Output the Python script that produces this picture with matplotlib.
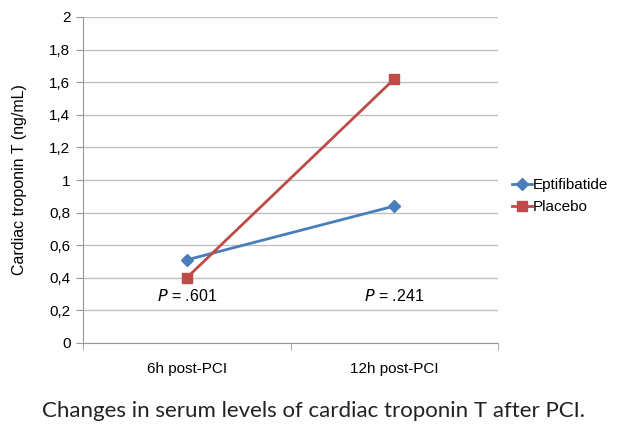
import numpy as np
import matplotlib.pyplot as plt

categories = ["6h post-PCI", "12h post-PCI"]
eptifibatide = [0.51, 0.84]
placebo = [0.40, 1.62]
p_values = ["= .601", "= .241"]
yticks = [0, 0.2, 0.4, 0.6, 0.8, 1, 1.2, 1.4, 1.6, 1.8, 2]

plt.rcParams['font.family'] = ['Liberation Sans', 'DejaVu Sans']

fig = plt.figure(figsize=(6.26, 4.24), dpi=100)
ax = fig.add_axes([83 / 626, 1 - 343 / 424, (498 - 83) / 626, (343 - 17) / 424])

x = np.arange(len(categories))
ax.plot(x, eptifibatide, color="#4A7EBB", lw=2, marker="D", ms=6, label="Eptifibatide")
ax.plot(x, placebo, color="#BE4B48", lw=2, marker="s", ms=7, label="Placebo")

for xi, p in zip(x, p_values):
    ax.text(xi, 0.29, "$\\it{P}$ " + p, ha="center", va="center", fontsize=11.5)

ax.set_xlim(-0.5, 1.5)
ax.set_ylim(0, 2)
ax.set_yticks(yticks)
ax.set_yticklabels([str(t).replace(".", ",") for t in yticks], fontsize=11)
ax.set_xticks(x)
ax.set_xticklabels(categories, fontsize=11)
ax.set_xticks([-0.5, 0.5, 1.5], minor=True)
ax.tick_params(axis="x", which="major", length=0, pad=14)
ax.tick_params(axis="x", which="minor", length=5, color="#999999")
ax.tick_params(axis="y", length=5, color="#999999", pad=4)
ax.grid(axis="y", color="#c0c0c0", lw=1)
ax.set_axisbelow(True)
for s in ["top", "right"]:
    ax.spines[s].set_visible(False)
for s in ["left", "bottom"]:
    ax.spines[s].set_color("#999999")
ax.set_ylabel("Cardiac troponin T (ng/mL)", fontsize=11.5, labelpad=16)

ax.legend(loc="center left", bbox_to_anchor=(1.0, 0.45), frameon=False,
          fontsize=11, handlelength=1.3, handletextpad=0.1, labelspacing=0.5)

fig.text(0.5, 1 - 411 / 424, "Changes in serum levels of cardiac troponin T after PCI.",
         ha="center", va="center", fontsize=16, family=["Lato", "DejaVu Sans"], color="#222222")

fig.savefig("out.png", dpi=100)
